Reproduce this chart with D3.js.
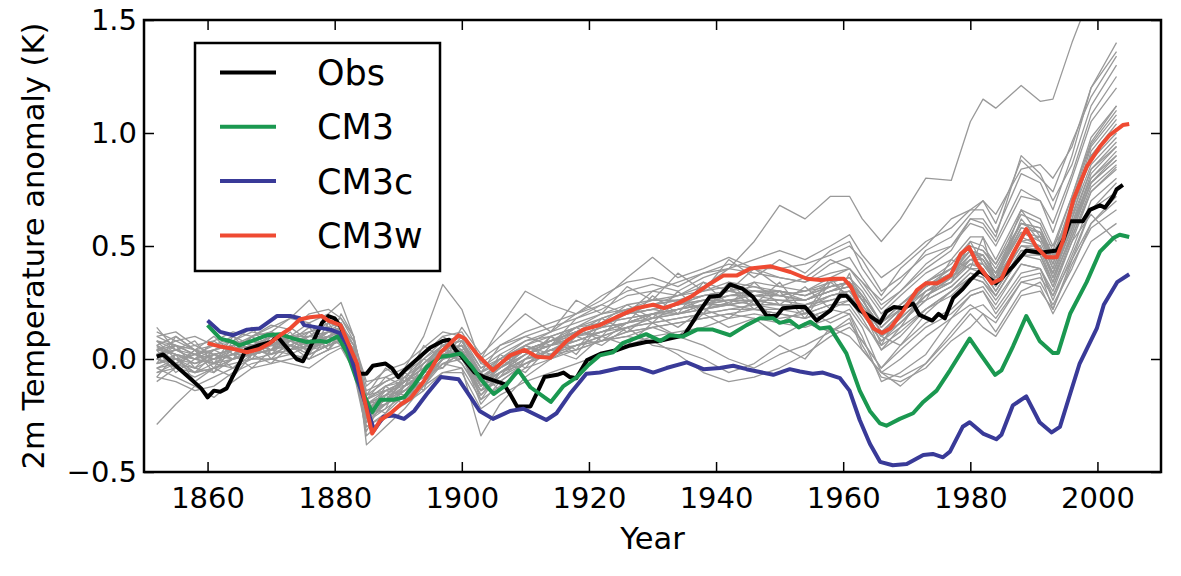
<!DOCTYPE html>
<html>
<head>
<meta charset="utf-8">
<script src="https://cdn.jsdelivr.net/npm/d3@7"></script>
<style>
  body { margin: 0; background: #fff; }
  text { font-family: "DejaVu Sans", sans-serif; }
</style>
</head>
<body>
<script>
// observed and model-mean series, [year, anomaly K]
const obs = [[1852,0.01],[1853,0.02],[1855,-0.03],[1857,-0.08],[1859,-0.13],[1860,-0.17],[1861,-0.14],[1862,-0.145],[1863,-0.13],[1865,-0.02],[1866,0.04],[1868,0.06],[1870,0.075],[1871,0.10],[1872,0.065],[1874,0.00],[1875,-0.01],[1876,0.045],[1877,0.10],[1878,0.16],[1879,0.19],[1880,0.18],[1881,0.14],[1882,0.06],[1883,-0.02],[1884,-0.065],[1885,-0.065],[1886,-0.03],[1888,-0.02],[1889,-0.04],[1890,-0.08],[1891,-0.05],[1893,0.0],[1895,0.05],[1897,0.08],[1898,0.085],[1899,0.04],[1900,0.01],[1902,-0.06],[1903.5,-0.08],[1906.6,-0.11],[1907.7,-0.16],[1908.7,-0.21],[1910.8,-0.21],[1912,-0.14],[1913,-0.08],[1915,-0.07],[1916,-0.06],[1917,-0.08],[1918,-0.085],[1919.7,-0.005],[1922,0.025],[1924.5,0.04],[1926.5,0.06],[1929,0.075],[1931,0.08],[1932.7,0.09],[1935,0.105],[1937.5,0.215],[1939,0.275],[1940.6,0.28],[1942.2,0.33],[1944.2,0.31],[1945.8,0.275],[1948,0.19],[1949.5,0.19],[1950.5,0.225],[1952.5,0.23],[1954,0.23],[1955.8,0.17],[1958,0.215],[1959.5,0.28],[1960.5,0.28],[1962.6,0.215],[1964.2,0.19],[1965.8,0.16],[1966.8,0.21],[1968,0.23],[1969.4,0.225],[1971,0.245],[1972,0.195],[1974,0.17],[1975,0.2],[1976,0.18],[1977.3,0.27],[1978.8,0.31],[1980,0.35],[1981.5,0.39],[1984,0.335],[1985,0.36],[1986.7,0.41],[1988.8,0.48],[1991,0.47],[1993.6,0.48],[1994.6,0.525],[1995.7,0.61],[1997.7,0.61],[1998.8,0.66],[2000.4,0.68],[2001.2,0.67],[2002.5,0.72],[2003,0.75],[2004,0.77]];

const cm3 = [[1860,0.15],[1862,0.09],[1864,0.075],[1865,0.06],[1867,0.08],[1869.3,0.105],[1871.4,0.11],[1873.5,0.09],[1875.6,0.075],[1877.7,0.08],[1878.7,0.075],[1880.5,0.10],[1882,0.025],[1883.5,-0.095],[1885.9,-0.235],[1887.2,-0.18],[1889.3,-0.18],[1890.9,-0.17],[1892.5,-0.115],[1894.5,-0.035],[1896.7,0.01],[1898.2,0.015],[1899.8,0.025],[1901.6,-0.035],[1903.3,-0.1],[1905,-0.155],[1907,-0.115],[1908.9,-0.05],[1910.8,-0.125],[1914,-0.19],[1916,-0.12],[1918.1,-0.08],[1919.8,-0.03],[1921.7,0.016],[1923.8,0.03],[1925.3,0.07],[1929,0.11],[1931.2,0.08],[1932.7,0.105],[1934.8,0.1],[1937,0.13],[1939.5,0.13],[1942.2,0.105],[1944.8,0.15],[1946.9,0.18],[1949,0.18],[1950,0.16],[1951.6,0.17],[1953,0.14],[1954.8,0.165],[1956.3,0.135],[1957.9,0.14],[1960.5,0.025],[1962.6,-0.14],[1964.2,-0.23],[1965.8,-0.285],[1966.8,-0.295],[1968.9,-0.265],[1971,-0.24],[1972.6,-0.19],[1974.7,-0.14],[1976.8,-0.05],[1979.9,0.09],[1981.5,0.025],[1983.9,-0.07],[1984.9,-0.05],[1986.7,0.055],[1988.8,0.19],[1990.9,0.08],[1993,0.027],[1993.8,0.027],[1995.7,0.2],[1998.3,0.34],[2000.4,0.475],[2002.5,0.535],[2003.5,0.55],[2005,0.54]];

const cm3c = [[1860,0.17],[1862,0.12],[1864,0.105],[1866.2,0.13],[1868.2,0.135],[1870.9,0.19],[1873,0.19],[1874.5,0.18],[1875.2,0.15],[1877.2,0.14],[1879.3,0.13],[1880.8,0.115],[1882,0.06],[1884,-0.125],[1886.2,-0.315],[1887.7,-0.255],[1889.3,-0.25],[1890.9,-0.265],[1892.5,-0.23],[1894.5,-0.155],[1896.7,-0.08],[1899.5,-0.09],[1901.4,-0.17],[1902.8,-0.23],[1904.9,-0.265],[1907.6,-0.23],[1909.7,-0.22],[1913.3,-0.27],[1914.9,-0.24],[1917,-0.155],[1919.6,-0.065],[1921.7,-0.06],[1924.9,-0.04],[1928,-0.04],[1930.1,-0.06],[1932.2,-0.04],[1935.4,-0.015],[1938,-0.045],[1940.6,-0.04],[1942.7,-0.03],[1944.8,-0.045],[1949,-0.07],[1951.6,-0.045],[1953.2,-0.055],[1955.2,-0.065],[1956.8,-0.06],[1959.5,-0.085],[1961,-0.14],[1962.6,-0.27],[1964.2,-0.375],[1965.8,-0.455],[1967.8,-0.47],[1970,-0.465],[1972.6,-0.425],[1974.1,-0.42],[1975.7,-0.435],[1976.8,-0.41],[1978.8,-0.3],[1979.9,-0.28],[1982,-0.33],[1984.1,-0.355],[1984.9,-0.335],[1986.7,-0.205],[1988.8,-0.165],[1990.9,-0.28],[1992.8,-0.325],[1994.1,-0.3],[1995.7,-0.155],[1997.2,-0.02],[1999.9,0.135],[2001,0.24],[2003.1,0.34],[2005,0.375]];

const cm3w = [[1860,0.07],[1862,0.055],[1864,0.045],[1866.2,0.03],[1868.2,0.045],[1869.8,0.07],[1871.4,0.105],[1873,0.135],[1874.5,0.175],[1876.1,0.185],[1878,0.19],[1879,0.17],[1880.9,0.15],[1883.5,-0.02],[1884.6,-0.17],[1885.9,-0.33],[1887.2,-0.27],[1888.8,-0.24],[1890.4,-0.2],[1891.9,-0.175],[1894,-0.1],[1896.7,0.03],[1899.5,0.105],[1900.5,0.09],[1902.4,0.02],[1904.9,-0.05],[1907.6,0.016],[1909.9,0.04],[1911.8,0.01],[1913.9,0.005],[1916.5,0.08],[1919.1,0.13],[1921.7,0.15],[1924.3,0.185],[1927.5,0.225],[1930.1,0.24],[1931.8,0.225],[1933.9,0.245],[1936,0.275],[1938.6,0.325],[1941.2,0.37],[1943.3,0.37],[1945.4,0.4],[1948.6,0.41],[1951.7,0.385],[1954.3,0.355],[1956.4,0.35],[1958.5,0.355],[1960.1,0.355],[1961.2,0.32],[1962.7,0.23],[1964.8,0.135],[1966.1,0.115],[1967.4,0.135],[1969.5,0.215],[1971.6,0.305],[1973,0.335],[1974.8,0.335],[1976.9,0.37],[1978.5,0.465],[1979.8,0.495],[1981.1,0.42],[1983.4,0.335],[1984.9,0.355],[1986.7,0.465],[1988.8,0.575],[1990.4,0.495],[1992,0.45],[1993.6,0.45],[1994.6,0.525],[1996.2,0.705],[1998.3,0.85],[2000.4,0.94],[2001.9,0.99],[2004,1.035],[2005,1.04]];

// ensemble members (grey), values at grayYears
const grayYears = [1852,1855,1858,1861,1864,1867,1870,1873,1876,1879,1881,1883,1885,1888,1891,1894,1897,1900,1903,1906,1910,1914,1918,1922,1926,1930,1934,1938,1942,1946,1950,1954,1958,1961,1963,1966,1969,1973,1977,1980,1982,1984,1988,1991,1993,1996,1999,2003];

const ensemble = [
  [0.10,0.12,0.06,0.08,0.12,0.10,0.15,0.13,0.20,0.22,0.18,0.08,-0.12,-0.05,-0.02,0.05,0.12,0.10,0.00,0.06,0.12,0.16,0.20,0.24,0.30,0.33,0.30,0.36,0.40,0.38,0.36,0.34,0.42,0.45,0.36,0.24,0.30,0.42,0.50,0.60,0.58,0.50,0.72,0.70,0.56,0.80,1.05,1.20],
  [-0.08,-0.10,-0.14,-0.12,-0.06,-0.02,0.00,-0.02,-0.04,0.02,0.05,-0.05,-0.30,-0.25,-0.20,-0.14,-0.06,-0.04,-0.18,-0.12,-0.04,0.00,0.04,0.08,0.10,0.14,0.16,0.18,0.20,0.22,0.20,0.18,0.22,0.26,0.18,0.04,0.10,0.22,0.30,0.38,0.36,0.28,0.46,0.44,0.32,0.52,0.74,0.85],
  [-0.29,-0.20,-0.12,-0.08,-0.04,0.02,0.04,0.10,0.05,0.08,0.12,0.04,-0.20,-0.18,-0.10,-0.04,0.06,0.08,-0.06,0.00,0.08,0.10,0.14,0.20,0.22,0.24,0.26,0.22,0.25,0.30,0.28,0.30,0.34,0.36,0.30,0.16,0.24,0.34,0.40,0.50,0.48,0.40,0.60,0.58,0.46,0.66,0.90,1.02],
  [0.05,0.02,0.00,0.04,0.06,0.08,0.06,0.10,0.12,0.14,0.16,0.06,-0.18,-0.12,-0.08,0.00,0.08,0.10,-0.04,0.02,0.08,0.12,0.16,0.20,0.24,0.26,0.28,0.32,0.40,0.52,0.68,0.62,0.72,0.72,0.62,0.52,0.62,0.80,0.79,1.05,1.15,1.11,1.21,1.14,1.15,1.40,1.62,1.80],
  [0.08,0.04,0.00,-0.02,0.04,0.10,0.12,0.08,0.10,0.16,0.14,0.08,-0.10,-0.08,-0.04,0.10,0.33,0.22,-0.02,-0.04,0.04,0.08,0.10,0.14,0.20,0.22,0.24,0.28,0.30,0.28,0.30,0.26,0.30,0.34,0.26,0.14,0.22,0.30,0.38,0.44,0.46,0.36,0.56,0.52,0.40,0.60,0.80,0.90],
  [0.02,0.06,0.04,0.00,0.02,0.06,0.08,0.04,0.06,0.10,0.12,0.04,-0.24,-0.18,-0.10,-0.04,0.06,0.10,0.00,0.14,0.30,0.24,0.20,0.28,0.34,0.36,0.32,0.38,0.42,0.40,0.40,0.42,0.46,0.50,0.44,0.30,0.36,0.46,0.50,0.62,0.60,0.52,0.75,0.70,0.60,0.82,1.08,1.25],
  [-0.02,0.00,-0.06,-0.04,0.00,0.02,0.04,0.06,0.04,0.06,0.08,0.00,-0.26,-0.22,-0.16,-0.10,-0.02,0.00,-0.14,-0.08,-0.02,0.02,0.06,0.08,0.10,0.08,0.02,-0.06,-0.10,-0.08,-0.04,0.02,0.10,0.14,0.08,-0.04,0.04,0.14,0.20,0.28,0.30,0.22,0.38,0.40,0.26,0.46,0.66,0.78],
  [0.04,0.02,-0.02,0.02,0.04,0.04,0.02,0.06,0.10,0.12,0.10,0.00,-0.34,-0.26,-0.18,-0.10,0.00,0.02,-0.20,-0.10,-0.02,0.04,0.08,0.12,0.16,0.20,0.20,0.22,0.24,0.22,0.20,0.18,0.22,0.20,0.10,-0.10,-0.06,0.02,0.18,0.28,0.30,0.20,0.36,0.38,0.22,0.44,0.60,0.70],
  [-0.04,-0.02,0.02,0.04,0.06,0.10,0.14,0.18,0.16,0.20,0.25,0.10,-0.38,-0.30,-0.22,-0.12,-0.02,0.02,-0.16,-0.06,0.02,0.08,0.12,0.16,0.18,0.20,0.24,0.26,0.30,0.32,0.30,0.28,0.32,0.34,0.28,0.16,0.24,0.32,0.40,0.48,0.46,0.38,0.60,0.58,0.44,0.70,0.95,1.10],
  [0.00,0.04,0.02,0.06,0.04,0.08,0.12,0.18,0.26,0.14,0.10,0.00,-0.20,-0.16,-0.14,-0.08,0.02,0.00,-0.12,-0.06,0.00,0.04,0.10,0.14,0.16,0.20,0.22,0.26,0.26,0.24,0.22,0.24,0.28,0.30,0.22,0.10,0.18,0.28,0.34,0.42,0.42,0.34,0.52,0.50,0.36,0.58,0.80,0.92],
  [-0.04,-0.08,-0.12,-0.17,-0.10,-0.04,-0.02,0.00,0.02,0.06,0.08,-0.02,-0.24,-0.20,-0.12,-0.08,0.00,0.04,-0.10,-0.04,0.04,0.06,0.10,0.12,0.16,0.18,0.20,0.24,0.26,0.28,0.28,0.26,0.30,0.32,0.22,0.10,0.16,0.28,0.36,0.44,0.42,0.34,0.50,0.48,0.38,0.58,0.78,0.88],
  [0.06,0.10,0.04,0.02,0.00,0.04,0.06,0.04,0.08,0.10,0.12,0.02,-0.16,-0.14,-0.10,-0.04,0.04,0.06,-0.08,-0.02,0.04,0.08,0.12,0.18,0.22,0.26,0.26,0.28,0.30,0.34,0.32,0.30,0.36,0.40,0.34,0.22,0.30,0.40,0.48,0.62,0.62,0.54,0.90,0.82,0.70,0.86,1.12,1.30],
  [0.00,-0.04,-0.06,-0.02,0.00,0.04,0.02,0.06,0.02,0.06,0.08,-0.02,-0.26,-0.20,-0.14,-0.10,0.00,0.02,-0.14,-0.10,-0.02,0.02,0.06,0.08,0.12,0.14,0.16,0.18,0.20,0.18,0.16,0.14,0.18,0.22,0.14,-0.06,-0.08,-0.02,0.12,0.22,0.24,0.18,0.34,0.32,0.20,0.36,0.52,0.60],
  [0.12,0.08,0.04,0.06,0.10,0.06,0.04,0.08,0.04,0.08,0.10,0.04,-0.14,-0.10,-0.06,0.00,0.06,0.08,-0.06,0.00,0.06,0.10,0.14,0.16,0.20,0.24,0.28,0.30,0.34,0.32,0.28,0.30,0.32,0.34,0.28,0.16,0.22,0.34,0.40,0.50,0.48,0.42,0.60,0.56,0.46,0.68,0.88,1.00],
  [-0.02,0.02,0.00,0.02,0.04,0.06,0.08,0.04,0.06,0.12,0.14,0.06,-0.20,-0.14,-0.10,-0.02,0.06,0.08,-0.04,0.00,0.06,0.12,0.20,0.26,0.36,0.45,0.36,0.40,0.45,0.40,0.36,0.34,0.38,0.40,0.32,0.20,0.28,0.38,0.44,0.54,0.54,0.44,0.66,0.62,0.50,0.72,0.98,1.12],
  [0.02,0.00,-0.04,-0.06,0.00,0.04,0.06,0.10,0.08,0.10,0.12,0.04,-0.22,-0.20,-0.16,-0.10,-0.02,-0.04,-0.34,-0.20,-0.08,0.00,0.06,0.10,0.14,0.16,0.18,0.20,0.22,0.24,0.24,0.22,0.26,0.28,0.20,0.08,0.16,0.26,0.32,0.40,0.38,0.30,0.48,0.46,0.32,0.54,0.76,0.86],
  [0.04,0.06,0.02,-0.02,0.02,0.06,0.10,0.06,0.04,0.08,0.10,0.02,-0.22,-0.16,-0.10,-0.06,0.02,0.04,-0.10,-0.06,0.00,0.02,0.04,0.08,0.12,0.14,0.10,0.06,0.00,-0.04,0.02,0.06,0.12,0.16,0.08,-0.04,0.06,0.16,0.22,0.30,0.32,0.24,0.42,0.40,0.28,0.48,0.70,0.80],
  [-0.06,-0.02,-0.04,0.00,0.02,0.02,0.04,0.08,0.06,0.10,0.08,0.00,-0.28,-0.20,-0.14,-0.06,0.04,0.06,-0.08,-0.02,0.04,0.08,0.12,0.16,0.18,0.20,0.22,0.24,0.28,0.30,0.30,0.28,0.32,0.34,0.26,0.14,0.22,0.32,0.38,0.48,0.46,0.38,0.56,0.54,0.42,0.66,0.90,1.04],
  [0.02,0.04,0.00,-0.02,-0.04,0.00,0.02,0.04,0.06,0.08,0.10,0.02,-0.18,-0.14,-0.12,-0.06,0.02,0.02,-0.12,-0.08,0.00,0.04,0.06,0.10,0.14,0.16,0.18,0.20,0.22,0.22,0.22,0.20,0.24,0.26,0.20,0.08,0.14,0.22,0.28,0.36,0.34,0.26,0.42,0.40,0.30,0.52,0.64,0.52],
  [0.08,0.06,0.02,0.04,0.08,0.12,0.10,0.08,0.12,0.16,0.18,0.10,-0.16,-0.10,-0.06,0.02,0.10,0.12,-0.02,0.04,0.10,0.14,0.18,0.22,0.28,0.30,0.34,0.38,0.40,0.44,0.48,0.44,0.50,0.55,0.46,0.36,0.42,0.52,0.58,0.66,0.66,0.56,0.82,0.78,0.66,0.90,1.20,1.40],
  [-0.06,-0.04,-0.08,-0.04,-0.02,0.00,0.00,0.02,0.00,0.04,0.06,-0.04,-0.30,-0.24,-0.16,-0.12,-0.06,-0.06,-0.22,-0.16,-0.10,-0.06,-0.02,0.02,0.06,0.10,0.12,0.14,0.18,0.20,0.18,0.20,0.24,0.24,0.16,0.06,0.12,0.22,0.30,0.38,0.36,0.28,0.46,0.46,0.34,0.56,0.78,0.90],
  [0.04,0.08,0.10,0.06,0.08,0.06,0.08,0.10,0.10,0.12,0.14,0.06,-0.20,-0.16,-0.08,-0.02,0.04,0.06,-0.08,-0.04,0.04,0.08,0.12,0.16,0.20,0.22,0.24,0.28,0.30,0.28,0.26,0.26,0.30,0.32,0.24,0.12,0.20,0.30,0.36,0.46,0.44,0.36,0.58,0.56,0.42,0.64,0.86,0.98],
  [-0.02,0.00,0.02,0.00,0.06,0.08,0.04,0.06,0.10,0.08,0.12,0.04,-0.24,-0.18,-0.12,-0.06,0.02,0.06,-0.08,-0.04,0.02,0.06,0.10,0.14,0.16,0.20,0.22,0.24,0.26,0.26,0.24,0.22,0.28,0.30,0.22,0.10,0.18,0.28,0.34,0.44,0.44,0.34,0.54,0.50,0.38,0.60,0.84,0.96],
  [0.06,0.02,-0.02,0.00,0.02,0.04,0.08,0.10,0.06,0.12,0.10,0.02,-0.22,-0.18,-0.14,-0.06,0.04,0.02,-0.12,-0.04,0.02,0.06,0.12,0.16,0.20,0.22,0.20,0.24,0.28,0.30,0.28,0.26,0.30,0.32,0.26,0.12,0.20,0.32,0.38,0.48,0.44,0.36,0.52,0.54,0.40,0.62,0.84,0.94],
  [-0.04,0.00,-0.02,0.02,0.00,0.02,0.06,0.04,0.08,0.10,0.08,0.00,-0.24,-0.18,-0.12,-0.08,0.00,0.04,-0.10,-0.06,0.02,0.06,0.08,0.12,0.16,0.18,0.22,0.24,0.24,0.26,0.26,0.24,0.28,0.30,0.24,0.12,0.18,0.28,0.36,0.42,0.40,0.32,0.50,0.50,0.38,0.58,0.82,0.94],
  [0.10,0.06,0.02,0.00,0.04,0.08,0.06,0.10,0.08,0.10,0.14,0.04,-0.18,-0.12,-0.10,-0.02,0.06,0.04,-0.10,-0.04,0.04,0.08,0.14,0.18,0.22,0.24,0.26,0.30,0.32,0.30,0.30,0.28,0.34,0.36,0.28,0.16,0.24,0.34,0.42,0.52,0.50,0.42,0.64,0.60,0.48,0.72,0.96,1.12],
  [0.00,-0.02,-0.06,-0.04,0.00,0.02,0.04,0.02,0.06,0.08,0.10,0.02,-0.26,-0.20,-0.14,-0.08,0.00,0.04,-0.12,-0.06,0.00,0.04,0.08,0.12,0.14,0.18,0.20,0.22,0.24,0.26,0.24,0.24,0.26,0.28,0.20,0.10,0.16,0.26,0.32,0.40,0.40,0.30,0.48,0.48,0.34,0.56,0.78,0.88],
  [0.02,0.04,0.06,0.02,0.04,0.06,0.06,0.08,0.04,0.10,0.12,0.02,-0.20,-0.16,-0.10,-0.04,0.04,0.06,-0.06,-0.02,0.04,0.08,0.12,0.16,0.20,0.22,0.24,0.26,0.28,0.28,0.28,0.26,0.32,0.34,0.26,0.14,0.22,0.32,0.38,0.46,0.46,0.38,0.58,0.56,0.44,0.66,0.90,1.02],
  [0.06,-0.02,0.04,0.10,0.02,-0.04,0.04,0.12,0.02,0.06,0.14,0.00,-0.28,-0.22,-0.06,-0.12,0.00,0.10,-0.12,0.02,-0.04,0.10,0.04,0.18,0.12,0.20,0.14,0.22,0.18,0.26,0.16,0.22,0.16,0.20,0.06,-0.08,-0.10,-0.04,0.08,0.14,0.20,0.12,0.30,0.34,0.24,0.40,0.60,0.72],
  [-0.02,0.10,0.04,-0.04,0.08,0.14,0.02,0.10,0.16,0.06,0.20,0.10,-0.16,-0.04,-0.10,0.06,0.00,0.14,0.02,0.10,0.20,0.12,0.26,0.20,0.32,0.26,0.38,0.30,0.44,0.36,0.44,0.38,0.48,0.52,0.40,0.28,0.40,0.50,0.62,0.66,0.70,0.60,0.88,0.80,0.74,0.96,1.16,1.34],
  [0.08,0.00,-0.06,0.02,-0.04,0.04,0.10,0.02,0.00,0.10,0.06,-0.04,-0.26,-0.12,-0.18,-0.04,0.04,-0.02,-0.14,-0.02,0.06,0.00,0.10,0.06,0.14,0.06,0.04,0.00,-0.06,-0.02,0.06,0.00,0.14,0.10,0.04,-0.06,0.00,0.10,0.18,0.24,0.20,0.16,0.34,0.36,0.28,0.44,0.66,0.74],
  [-0.10,-0.04,0.04,-0.06,0.06,0.00,0.10,0.04,0.12,0.04,0.14,0.06,-0.22,-0.20,-0.08,-0.14,0.08,0.02,-0.06,-0.14,0.00,0.10,0.02,0.16,0.24,0.18,0.30,0.20,0.34,0.24,0.34,0.20,0.36,0.26,0.28,0.06,0.22,0.26,0.44,0.40,0.54,0.34,0.62,0.52,0.50,0.62,0.92,1.06],
  [0.14,0.04,0.08,-0.02,0.10,0.02,0.12,0.06,0.02,0.16,0.08,0.00,-0.20,-0.24,-0.12,0.00,-0.04,0.08,-0.10,0.00,-0.06,0.06,0.14,0.08,0.16,0.28,0.20,0.34,0.24,0.34,0.24,0.32,0.22,0.38,0.20,0.10,0.06,0.20,0.30,0.36,0.34,0.28,0.46,0.50,0.36,0.54,0.74,0.84],
  [0.00,0.06,-0.04,0.04,0.00,0.10,0.04,0.14,0.08,0.12,0.16,0.02,-0.18,-0.08,-0.12,0.02,0.10,0.04,-0.06,0.06,0.10,0.06,0.18,0.24,0.20,0.30,0.28,0.34,0.30,0.40,0.32,0.36,0.44,0.40,0.34,0.26,0.34,0.48,0.54,0.64,0.70,0.64,0.84,0.86,0.80,0.94,1.20,1.36],
  [-0.08,0.02,-0.10,-0.04,-0.08,0.02,-0.02,0.06,0.00,0.04,0.10,-0.06,-0.32,-0.16,-0.20,-0.06,-0.04,0.04,-0.18,-0.06,-0.02,0.04,0.00,0.10,0.06,0.16,0.10,0.20,0.14,0.18,0.10,0.16,0.12,0.18,0.04,-0.06,-0.12,-0.02,0.10,0.20,0.14,0.10,0.28,0.30,0.22,0.42,0.58,0.66],
  [0.04,-0.06,0.00,0.08,0.02,0.10,0.00,0.08,0.14,0.04,0.12,0.04,-0.24,-0.14,-0.16,-0.02,0.06,-0.02,-0.16,-0.08,0.06,0.02,0.12,0.10,0.22,0.16,0.26,0.20,0.32,0.22,0.30,0.18,0.34,0.28,0.22,0.04,0.14,0.30,0.34,0.52,0.42,0.36,0.66,0.54,0.44,0.66,0.94,1.08]
];

const seriesNames = ["Obs", "CM3", "CM3c", "CM3w"];
const seriesColors = ["#000000", "#1a9850", "#393a98", "#ef4a32"];
const xTicks = [1860, 1880, 1900, 1920, 1940, 1960, 1980, 2000];
const yTicks = [-0.5, 0.0, 0.5, 1.0, 1.5];

function main() {
  const margin = { top: 20, right: 20, bottom: 104, left: 144 };
  const width = 1181 - margin.left - margin.right;
  const height = 576 - margin.top - margin.bottom;

  const svg = d3.select("body").append("svg")
    .attr("width", 1181)
    .attr("height", 576);

  svg.append("defs").append("clipPath").attr("id", "plot-clip")
    .append("rect").attr("width", width).attr("height", height);

  const g = svg.append("g")
    .attr("transform", `translate(${margin.left},${margin.top})`);

  const x = d3.scaleLinear().domain([1850, 2010]).range([0, width]);
  const y = d3.scaleLinear().domain([-0.5, 1.5]).range([height, 0]);

  const line = d3.line()
    .x(d => x(d[0]))
    .y(d => y(d[1]));

  const lines = g.append("g").attr("clip-path", "url(#plot-clip)");

  // grey ensemble members
  ensemble.forEach(member => {
    const pts = member
      .map((v, i) => [grayYears[i], v])
      .filter(d => d[0] !== undefined);
    lines.append("path")
      .datum(pts)
      .attr("fill", "none")
      .attr("stroke", "#999999")
      .attr("stroke-width", 1.3)
      .attr("stroke-linejoin", "round")
      .attr("d", line);
  });

  [obs, cm3, cm3c, cm3w].forEach((s, i) => {
    lines.append("path")
      .datum(s)
      .attr("fill", "none")
      .attr("stroke", seriesColors[i])
      .attr("stroke-width", 4)
      .attr("stroke-linejoin", "round")
      .attr("d", line);
  });

  // axes, ticks pointing inward on all four sides
  const fmt = d3.format(".1f");

  const xb = g.append("g")
    .attr("transform", `translate(0,${height})`)
    .call(d3.axisBottom(x).tickValues(xTicks).tickFormat(d3.format("d")).tickSize(-10).tickPadding(15));
  const yl = g.append("g")
    .call(d3.axisLeft(y).tickValues(yTicks).tickFormat(fmt).tickSize(-10).tickPadding(7));
  const xt = g.append("g")
    .call(d3.axisTop(x).tickValues(xTicks).tickFormat("").tickSize(-10));
  const yr = g.append("g")
    .attr("transform", `translate(${width},0)`)
    .call(d3.axisRight(y).tickValues(yTicks).tickFormat("").tickSize(-10));

  [xb, yl, xt, yr].forEach(a => {
    a.select(".domain").remove();
    a.selectAll(".tick line").attr("stroke", "#000").attr("stroke-width", 1.5);
    a.selectAll("text")
      .attr("fill", "#000")
      .style("font-family", "'DejaVu Sans', sans-serif")
      .style("font-size", "29px");
  });

  g.append("rect")
    .attr("width", width)
    .attr("height", height)
    .attr("fill", "none")
    .attr("stroke", "#000")
    .attr("stroke-width", 2.5);

  // axis labels
  g.append("text")
    .attr("x", width / 2)
    .attr("y", height + 77)
    .style("text-anchor", "middle")
    .style("font-size", "30.5px")
    .text("Year");

  g.append("text")
    .attr("transform", "rotate(-90)")
    .attr("x", -height / 2)
    .attr("y", -margin.left + 44)
    .style("text-anchor", "middle")
    .style("font-size", "30.5px")
    .text("2m Temperature anomaly (K)");

  // legend
  const legend = g.append("g")
    .attr("transform", `translate(${195 - margin.left},${43 - margin.top})`);

  legend.append("rect")
    .attr("width", 245)
    .attr("height", 228)
    .attr("fill", "#fff")
    .attr("stroke", "#000")
    .attr("stroke-width", 2.5);

  seriesNames.forEach((name, i) => {
    const ly = 29.5 + i * 54.3;
    legend.append("line")
      .attr("x1", 25).attr("x2", 81)
      .attr("y1", ly).attr("y2", ly)
      .attr("stroke", seriesColors[i])
      .attr("stroke-width", 4);
    legend.append("text")
      .attr("x", 122)
      .attr("y", ly)
      .attr("dy", "0.36em")
      .style("font-size", "35px")
      .text(name);
  });
}

main();
</script>
</body>
</html>
